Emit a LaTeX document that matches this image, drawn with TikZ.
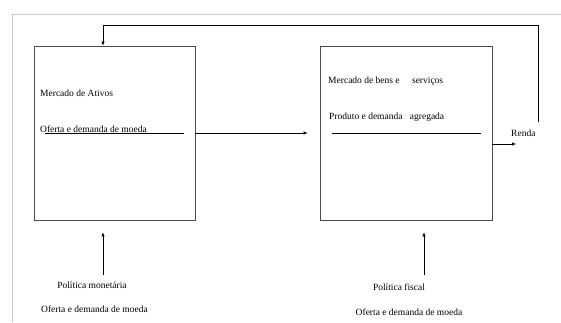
\documentclass[tikz,border=0pt]{standalone}
\usepackage{fontspec}
\setmainfont{Liberation Serif}
\usetikzlibrary{positioning, arrows.meta}

\begin{document}
\begin{tikzpicture}[
			x=1pt, y=-1pt,
			font=\fontsize{9.5}{11}\selectfont,
			mercado/.style={draw=black!70, line width=0.8pt, minimum height=174pt, inner sep=0pt},
			rotulo/.style={anchor=west, inner sep=0pt},
			seta/.style={-{Latex[length=4pt,width=3.5pt]}, line width=0.6pt},
			traco/.style={line width=0.8pt}
			]
			\useasboundingbox (0,0) rectangle (561,322);
			% moldura
			\draw[black!22, line width=1pt] (561,14) -- (12,14) -- (12,322);
			% os dois mercados
			\node[mercado, minimum width=161pt] (ativos) at (114.5,133) {};
			\node[mercado, minimum width=172pt] (bens) at (406,133) {};
			\node[rotulo] (tativos) at (40,93) {Mercado de Ativos};
			\node[rotulo] (tmoeda) at (40,129) {Oferta e demanda de moeda};
			\node[rotulo] (tbens) at (328,81) {Mercado de bens e\hspace{10pt} serviços};
			\node[rotulo] (tproduto) at (329,117) {Produto e demanda\hspace{5pt} agregada};
			\draw[traco] (45,133) -- (184,133);
			\draw[traco] (332,133) -- (481,133);
			% fluxos
			\draw[seta, shorten >=12pt] (ativos) -- (bens);
			\coordinate (saida) at (516,144);
			\draw[seta] (bens.east |- saida) -- (saida);
			\node[rotulo] (renda) at (511,133) {Renda};
			\coordinate (volta) at (538,122);
			\coordinate (topo) at (103,25);
			\draw[seta] (volta) |- (topo) -- (topo |- ativos.north);
			% politicas
			\coordinate (pm) at (103,275);
			\coordinate (pf) at (424,275);
			\draw[seta, shorten >=12pt] (pm) -- (pm |- ativos.south);
			\draw[seta, shorten >=12pt] (pf) -- (pf |- bens.south);
			\node (polmon) at (92,285) {Política monetária};
			\node[rotulo] (moeda1) at (41,309) {Oferta e demanda de moeda};
			\node (polfis) at (399,287) {Política fiscal};
			\node (moeda2) at (409,312) {Oferta e demanda de moeda};
		\end{tikzpicture}
\end{document}
